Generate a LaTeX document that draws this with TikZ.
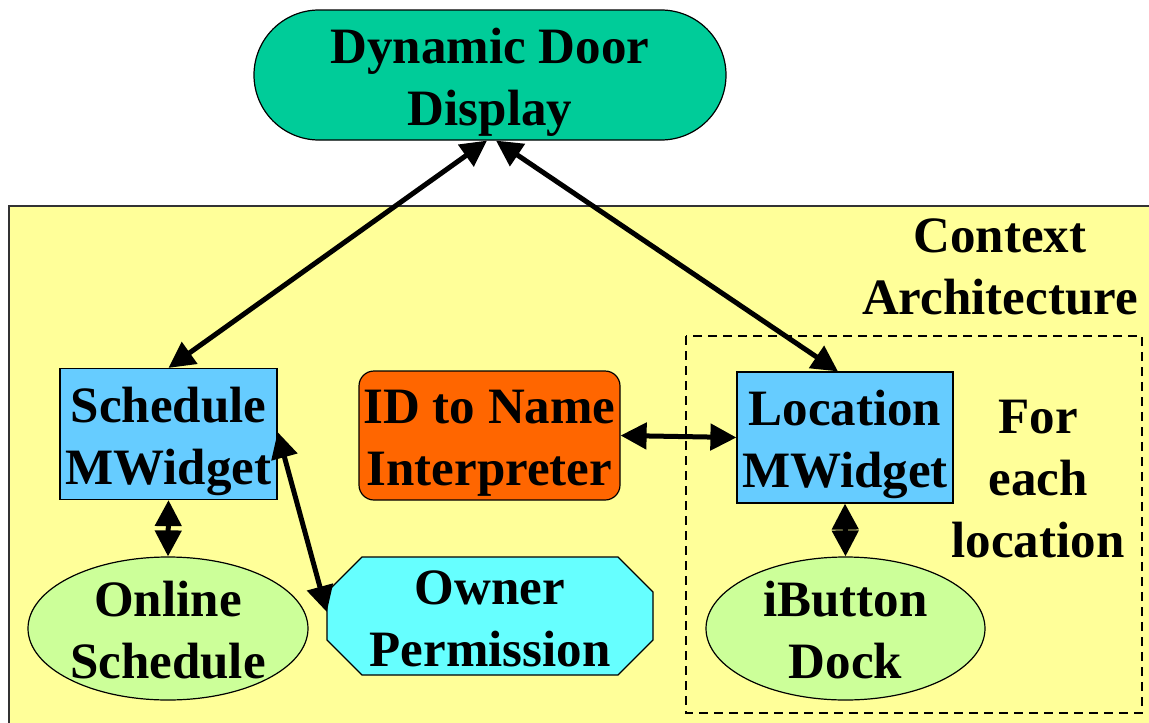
\documentclass[tikz,border=0pt]{standalone}
\usepackage{fontspec}
\setmainfont{Liberation Serif}
\usetikzlibrary{arrows.meta,shapes.geometric}
\definecolor{dddc}{HTML}{00CC99}
\definecolor{mwc}{HTML}{66CCFF}
\definecolor{idc}{HTML}{FF6600}
\definecolor{elc}{HTML}{CCFF99}
\definecolor{octc}{HTML}{66FFFF}
\definecolor{ctxc}{HTML}{FFFF99}
\definecolor{bordc}{HTML}{333333}
\newcommand\zs{\rule[-12pt]{0pt}{62pt}}
\tikzset{
  txt/.style={font=\fontsize{51}{62}\selectfont\bfseries, align=center, inner sep=0pt, text=black},
  shp/.style={txt, draw=black, line width=1.2pt},
  mwbox/.style={shp, fill=mwc, minimum width=217pt, minimum height=131pt},
  elbox/.style={shp, ellipse, fill=elc, inner sep=-24pt, minimum height=143pt},
  dbl/.style={line width=5pt, {Triangle[length=26pt,width=26pt]}-{Triangle[length=26pt,width=26pt]}},
  ctxbox/.style={fill=ctxc, draw=bordc, line width=2pt},
  dashbox/.style={draw=black, line width=1.6pt, dash pattern=on 9pt off 6pt}
}
\begin{document}
\begin{tikzpicture}[x=1pt,y=-1pt]
\useasboundingbox (0,0) rectangle (1149,723);
\clip (0,0) rectangle (1149,723);
\fill[white] (0,0) rectangle (1149,723);
\draw[ctxbox] (9,206) rectangle (1170,745);
\draw[dashbox] (686,336) rectangle (1142,713);
% octagon outline
\filldraw[fill=octc, draw=black, line width=1.2pt]
  (362,557) -- (618,557) -- (653,592) -- (653,640) -- (618,675) -- (362,675) -- (327,640) -- (327,592) -- cycle;

\node[shp, fill=dddc, rounded corners=65pt, minimum width=472pt, minimum height=130pt] (ddd) at (490,75) {\zs Dynamic Door\\\zs Display};
\node[txt] (ctx) at (1000,264) {\zs Context\\\zs Architecture};
\node[mwbox] (sched) at (168.5,434) {\zs Schedule\\\zs MWidget};
\node[shp, fill=idc, rounded corners=15pt, minimum width=261pt, minimum height=129pt] (idn) at (489.5,435.5) {\zs ID to Name\\\zs Interpreter};
\node[mwbox, minimum width=216pt] (loc) at (845,437.5) {\zs Location\\\zs MWidget};
\node[txt] (fel) at (1038,476) {\zs For\\\zs each\\\zs location};
\node[elbox, minimum width=280pt] (onl) at (168,628.5) {\zs Online\\\zs Schedule};
\node[elbox, minimum width=279pt] (ibd) at (845.5,628.5) {\zs iButton\\\zs Dock};
\node[txt, minimum width=326pt, minimum height=118pt] (own) at (490,616) {\zs Owner\\\zs Permission};

\draw[dbl] ([xshift=-3pt]ddd.south) -- (sched.north);
\draw[dbl] ([xshift=6pt]ddd.south) -- ([xshift=-7pt]loc.north);
\draw[dbl] (idn.east) -- (loc.west);
\draw[dbl] (sched.south) -- (onl.north);
\draw[dbl] (loc.south) -- (ibd.north);
\draw[dbl] ([yshift=2pt]sched.east) -- ([yshift=4pt]own.west);
\end{tikzpicture}
\end{document}
